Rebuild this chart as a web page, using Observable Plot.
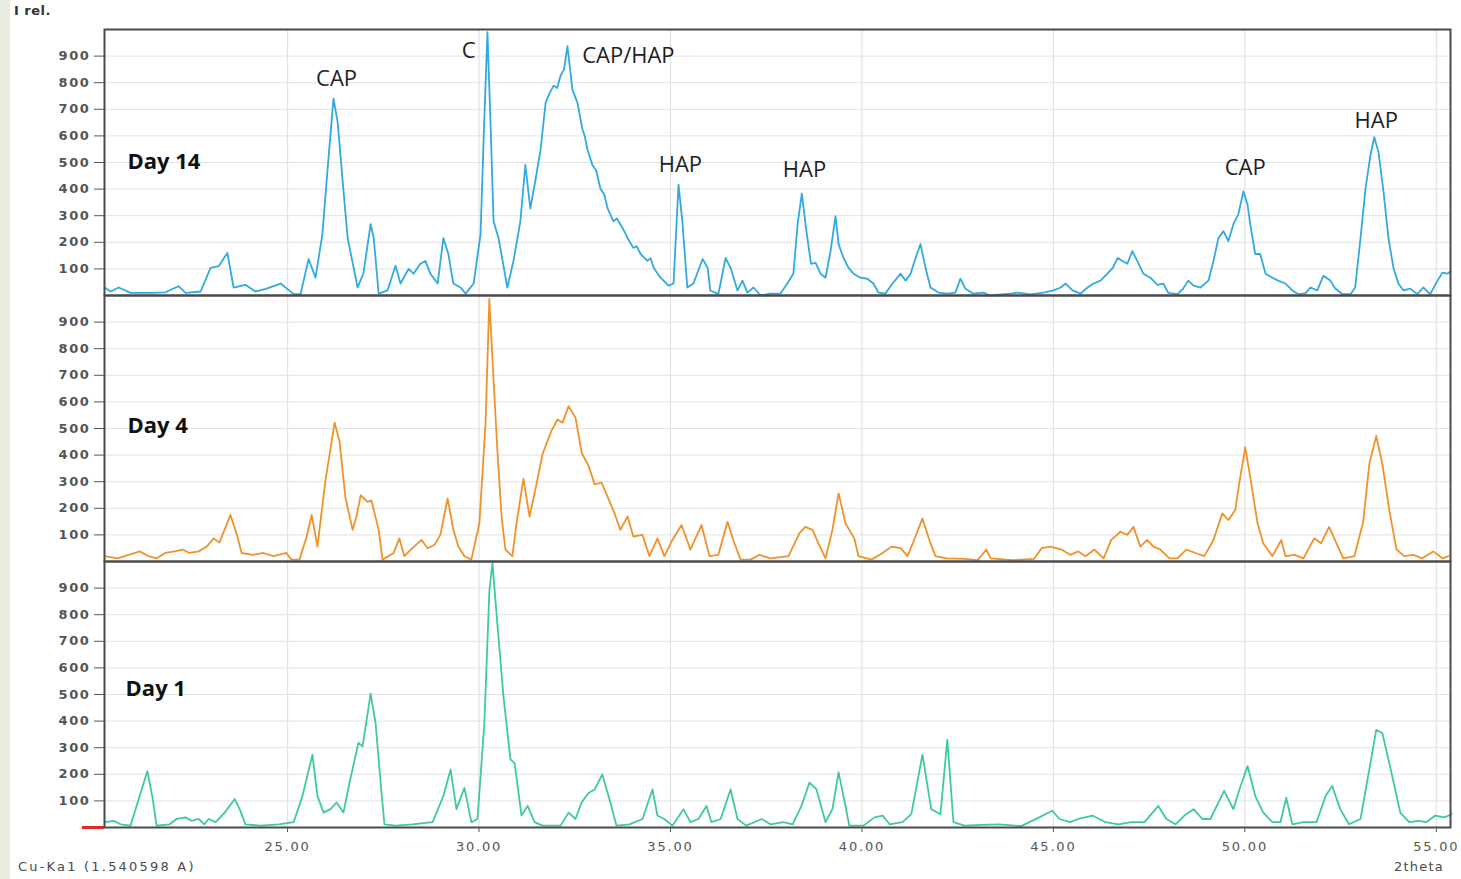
<!DOCTYPE html>
<html>
<head>
<meta charset="utf-8">
<script src="https://cdn.jsdelivr.net/npm/d3@7"></script>
<script src="https://cdn.jsdelivr.net/npm/@observablehq/plot@0.6"></script>
<style>
  html, body { margin: 0; padding: 0; background: #ffffff; }
  #wrap { position: relative; width: 1461px; height: 879px; overflow: hidden; background: #ffffff; }
  #strip { position: absolute; left: 0; top: 0; width: 10px; height: 879px; background: #e9eddf; }
  #chart { position: absolute; left: 0; top: 0; }
  .cap { position: absolute; font-family: "DejaVu Sans", sans-serif; color: #4a4a4a; white-space: nowrap; }
  #irel { left: 14px; top: 3px; font-size: 13px; font-weight: bold; color: #333; letter-spacing: 0.5px; }
  #cuka { left: 18px; top: 859px; font-size: 13px; letter-spacing: 2.2px; }
  #theta { left: 1394px; top: 859px; font-size: 13px; letter-spacing: 1.2px; }
  #redtick { position: absolute; left: 82px; top: 826px; width: 22px; height: 3px; background: #e0282c; }
  svg [aria-label="y-axis tick label"] text { letter-spacing: 1.6px; }
  svg [aria-label="x-axis tick label"] text { letter-spacing: 1.8px; }
</style>
</head>
<body>
<div id="wrap">
  <div id="strip"></div>
  <div id="chart"></div>
  <div id="irel" class="cap">I rel.</div>
  <div id="cuka" class="cap">Cu-Ka1 (1.540598 A)</div>
  <div id="theta" class="cap">2theta</div>
  <div id="redtick"></div>
</div>
<script>
// Panels (top to bottom) and their line colours
const panels = ["Day 14", "Day 4", "Day 1"];
const panelColors = ["#30aae0", "#f0922c", "#3ec9a0"];

// Axis ticks
const yTicks = [100, 200, 300, 400, 500, 600, 700, 800, 900];
const xTicks = [25, 30, 35, 40, 45, 50, 55];

// Day 14 pattern: [2theta, I rel.]
const day14 = [
[20.22,30],[20.38,15],[20.59,30],[20.90,10],[21.42,10],[21.81,12],[22.15,35],[22.34,10],[22.73,15],
[22.99,104],[23.20,110],[23.43,160],[23.59,30],[23.90,40],[24.16,15],[24.43,25],[24.82,45],[25.16,5],[25.34,5],
[25.55,137],[25.73,67],[25.91,230],[26.04,465],[26.20,740],[26.31,650],[26.44,428],[26.57,216],[26.83,30],
[26.98,82],[27.17,268],[27.25,216],[27.38,7],[27.61,19],[27.82,112],[27.95,45],[28.16,100],[28.29,82],
[28.47,119],[28.60,130],[28.73,82],[28.92,45],[29.07,216],[29.20,156],[29.33,45],[29.52,30],[29.65,7],
[29.86,45],[30.04,230],[30.12,587],[30.22,990],[30.30,650],[30.38,279],[30.51,216],[30.74,30],[30.90,130],
[31.08,279],[31.21,491],[31.34,327],[31.48,439],[31.61,550],[31.74,725],[31.84,760],[31.95,789],[32.04,780],[32.13,826],[32.22,850],[32.31,937],
[32.44,774],[32.57,725],[32.70,625],[32.76,600],[32.83,550],[32.96,491],[33.06,470],[33.17,402],[33.27,380],[33.36,327],[33.51,279],[33.60,290],[33.69,268],
[33.80,240],[33.88,216],[34.03,179],[34.12,185],[34.22,156],[34.40,130],[34.48,140],[34.56,104],[34.74,67],[34.95,37],[35.08,45],[35.21,417],
[35.31,279],[35.44,30],[35.60,45],[35.84,137],[35.97,104],[36.04,19],[36.25,5],[36.44,141],[36.57,104],
[36.75,19],[36.88,56],[37.01,11],[37.17,30],[37.35,0],[37.61,7],[37.87,7],[38.05,45],[38.21,82],[38.32,268],
[38.43,383],[38.54,253],[38.67,119],[38.79,123],[38.92,82],[39.05,67],[39.18,167],[39.31,298],[39.39,193],
[39.52,141],[39.65,104],[39.78,82],[39.96,67],[40.14,63],[40.30,45],[40.43,11],[40.61,7],[40.80,45],
[41.01,82],[41.14,56],[41.27,82],[41.40,141],[41.53,193],[41.66,104],[41.79,30],[42.00,11],[42.23,7],
[42.44,11],[42.57,63],[42.70,26],[42.91,7],[43.17,11],[43.35,0],[43.88,7],[44.06,11],[44.40,4],[44.74,11],
[45.00,19],[45.19,30],[45.32,45],[45.50,19],[45.71,7],[45.89,30],[46.05,45],[46.23,56],[46.41,82],[46.55,104],
[46.68,141],[46.80,130],[46.93,119],[47.06,167],[47.19,130],[47.35,82],[47.53,67],[47.72,40],[47.87,45],
[48.00,10],[48.24,5],[48.39,26],[48.52,56],[48.66,37],[48.84,30],[49.05,56],[49.18,130],[49.31,216],
[49.44,242],[49.57,205],[49.70,268],[49.83,305],[49.96,391],[50.07,342],[50.14,268],[50.27,156],[50.40,156],
[50.54,82],[50.72,67],[50.87,56],[51.06,45],[51.24,19],[51.40,5],[51.58,8],[51.71,30],[51.89,19],[52.05,74],
[52.23,56],[52.36,26],[52.55,5],[52.76,5],[52.88,30],[53.02,216],[53.15,402],[53.28,528],[53.38,595],
[53.49,539],[53.62,391],[53.75,216],[53.88,104],[54.01,45],[54.14,19],[54.32,26],[54.50,5],[54.66,30],
[54.84,5],[55.03,56],[55.16,86],[55.29,82],[55.37,90]
];

// Day 4 pattern
const day4 = [
[20.22,20],[20.56,12],[20.85,25],[21.14,38],[21.37,20],[21.58,12],[21.81,32],[22.05,38],[22.26,45],[22.44,32],
[22.68,38],[22.89,56],[23.07,87],[23.22,71],[23.51,175],[23.69,94],[23.80,32],[24.09,25],[24.37,32],[24.63,20],
[24.97,32],[25.10,7],[25.31,7],[25.50,94],[25.63,175],[25.78,56],[25.99,305],[26.23,522],[26.36,450],[26.51,242],
[26.70,119],[26.80,169],[26.91,249],[27.09,224],[27.19,230],[27.38,119],[27.48,7],[27.77,32],[27.92,87],[28.05,20],
[28.26,50],[28.50,81],[28.66,50],[28.84,63],[28.99,100],[29.18,237],[29.33,119],[29.46,56],[29.62,20],[29.80,7],
[30.01,144],[30.17,516],[30.27,987],[30.35,764],[30.48,417],[30.59,169],[30.69,45],[30.87,20],[30.98,144],
[31.16,311],[31.32,169],[31.50,290],[31.66,404],[31.89,491],[32.05,534],[32.18,522],[32.34,584],[32.52,541],
[32.68,409],[32.86,360],[33.02,290],[33.20,297],[33.36,242],[33.54,181],[33.69,119],[33.88,169],[34.03,94],
[34.27,100],[34.45,20],[34.66,87],[34.84,20],[35.05,81],[35.29,137],[35.52,45],[35.81,137],[36.02,20],[36.25,25],
[36.49,149],[36.64,81],[36.83,7],[37.09,7],[37.32,25],[37.61,12],[38.08,20],[38.37,107],[38.52,130],[38.71,119],
[38.86,69],[39.05,12],[39.23,119],[39.39,256],[39.57,144],[39.80,87],[39.91,20],[40.25,7],[40.54,32],[40.77,56],
[41.01,50],[41.19,20],[41.40,94],[41.58,162],[41.76,81],[41.92,20],[42.21,12],[42.68,10],[43.02,5],[43.25,45],
[43.36,12],[43.93,5],[44.50,10],[44.69,50],[44.92,56],[45.21,45],[45.44,25],[45.65,38],[45.84,20],[46.07,45],
[46.31,12],[46.51,81],[46.75,112],[46.93,100],[47.09,130],[47.27,56],[47.45,81],[47.61,56],[47.79,45],[48.03,12],
[48.24,12],[48.47,45],[48.71,32],[48.94,20],[49.18,81],[49.41,181],[49.57,156],[49.75,194],[49.88,318],[50.01,429],
[50.14,318],[50.33,144],[50.48,69],[50.72,20],[50.95,81],[51.06,20],[51.29,25],[51.53,12],[51.81,87],[51.99,69],
[52.20,130],[52.39,69],[52.57,12],[52.86,20],[53.09,149],[53.25,367],[53.43,472],[53.59,367],[53.77,194],
[53.96,45],[54.16,20],[54.40,25],[54.63,12],[54.92,38],[55.16,12],[55.32,20]
];

// Day 1 pattern
const day1 = [
[20.22,20],[20.46,25],[20.64,12],[20.90,7],[21.14,119],[21.34,212],[21.48,107],[21.58,7],[21.92,12],[22.10,32],
[22.34,38],[22.49,25],[22.68,32],[22.83,12],[22.94,32],[23.12,20],[23.36,56],[23.62,107],[23.75,69],[23.90,12],
[24.30,7],[24.77,12],[25.16,20],[25.39,119],[25.65,274],[25.78,119],[25.94,56],[26.12,69],[26.28,94],[26.46,56],
[26.62,169],[26.85,318],[26.96,305],[27.17,503],[27.30,391],[27.43,169],[27.53,12],[27.82,7],[28.26,12],[28.79,20],
[29.07,119],[29.26,218],[29.41,69],[29.62,149],[29.80,20],[29.96,32],[30.14,392],[30.27,888],[30.35,995],
[30.48,764],[30.64,491],[30.82,256],[30.93,242],[31.11,45],[31.27,81],[31.45,20],[31.66,7],[32.13,7],[32.34,56],
[32.52,32],[32.68,94],[32.86,130],[33.02,143],[33.22,200],[33.43,94],[33.59,7],[33.93,12],[34.27,32],[34.53,143],
[34.66,45],[34.84,32],[35.05,7],[35.34,69],[35.52,20],[35.73,32],[35.94,81],[36.07,20],[36.31,32],[36.57,143],
[36.75,32],[36.98,7],[37.38,32],[37.61,12],[37.95,20],[38.19,12],[38.42,81],[38.63,169],[38.81,144],[39.05,20],
[39.23,69],[39.39,208],[39.57,81],[39.67,7],[40.04,7],[40.33,38],[40.54,45],[40.72,12],[41.06,20],[41.29,50],
[41.58,274],[41.81,69],[42.05,50],[42.23,330],[42.39,20],[42.68,7],[43.12,10],[43.59,12],[44.16,5],[44.63,38],
[44.97,63],[45.16,32],[45.44,20],[45.65,32],[46.02,45],[46.36,20],[46.70,12],[47.04,20],[47.38,20],[47.74,81],
[47.95,32],[48.19,12],[48.42,45],[48.66,69],[48.89,32],[49.10,32],[49.46,138],[49.70,69],[49.86,144],[50.07,231],
[50.27,119],[50.48,56],[50.72,20],[50.93,20],[51.08,112],[51.24,12],[51.53,20],[51.87,20],[52.11,119],[52.28,156],
[52.49,69],[52.72,12],[53.02,32],[53.25,218],[53.43,367],[53.59,355],[53.82,211],[54.06,56],[54.29,20],[54.53,25],
[54.74,20],[54.97,45],[55.21,38],[55.40,50]
];

// Phase annotations on the Day 14 pattern: [label, 2theta, I rel.]
const phaseLabels = [
  ["CAP", 26.28, 815], ["C", 29.73, 919], ["CAP/HAP", 33.90, 900], ["HAP", 35.26, 491],
  ["HAP", 38.50, 472], ["CAP", 50.01, 480], ["HAP", 53.43, 658]
];
// Panel titles: [panel, 2theta, I rel.]
const dayLabels = [["Day 14", 20.82, 502], ["Day 4", 20.82, 510], ["Day 1", 20.77, 521]];

const series = [["Day 14", day14], ["Day 4", day4], ["Day 1", day1]];
const rows = series.flatMap(([day, arr]) => arr.map(([x, y]) => ({day, x, y})));
const phaseRows = phaseLabels.map(([label, x, y]) => ({day: "Day 14", label, x, y}));
const dayRows = dayLabels.map(([day, x, y]) => ({day, label: day, x, y}));

const chart = Plot.plot({
  width: 1461,
  height: 879,
  marginLeft: 104,
  marginRight: 11,
  marginTop: 28,
  marginBottom: 51,
  style: {background: "transparent", fontFamily: "DejaVu Sans, sans-serif", overflow: "visible"},
  x: {domain: [20.22, 55.37]},
  y: {domain: [0, 1000]},
  fy: {domain: panels, padding: 0, axis: null, label: null},
  color: {domain: panels, range: panelColors},
  marks: [
    Plot.gridY(yTicks, {stroke: "#e2e2e2", strokeOpacity: 1, strokeWidth: 1}),
    Plot.gridX(xTicks, {stroke: "#e2e2e2", strokeOpacity: 1, strokeWidth: 1.2}),
    Plot.line(rows, {x: "x", y: "y", fy: "day", z: "day", stroke: "day", strokeWidth: 1.8, strokeLinejoin: "round"}),
    Plot.frame({stroke: "#4a4a4a", strokeWidth: 2}),
    Plot.axisY(yTicks, {anchor: "left", tickSize: 10, tickPadding: 4, fontSize: 13, fontWeight: "bold", color: "#555", label: null}),
    Plot.axisX(xTicks, {anchor: "bottom", tickSize: 5, tickPadding: 9, fontSize: 13, color: "#555", label: null, tickFormat: d => d.toFixed(2)}),
    Plot.text(phaseRows, {x: "x", y: "y", fy: "day", text: "label", fontSize: 22, fontFamily: "Open Sans", fill: "#1e1e1e"}),
    Plot.text(dayRows, {x: "x", y: "y", fy: "day", text: "label", textAnchor: "start", fontSize: 22, fontWeight: "bold", fontFamily: "Open Sans", fill: "#111"})
  ]
});
document.getElementById("chart").appendChild(chart);
</script>
</body>
</html>
